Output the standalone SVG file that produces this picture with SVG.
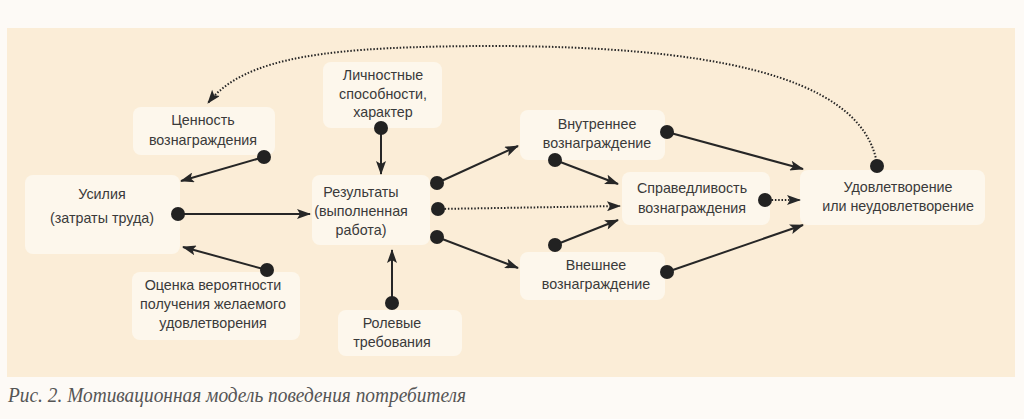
<svg xmlns="http://www.w3.org/2000/svg" width="1024" height="419" viewBox="0 0 1024 419">
<defs>
<style>
.box{fill:#fdf7ec;}
.t{font-family:"Liberation Sans",Arial,sans-serif;font-size:14.3px;fill:#3a3a3a;text-anchor:middle;}
.ln{stroke:#262626;stroke-width:2;fill:none;}
.dt{stroke:#262626;stroke-width:2;fill:none;stroke-dasharray:1.5 1.8;}
.dot{fill:#222;}
.cap{font-family:"Liberation Serif","Times New Roman",serif;font-style:italic;font-size:21px;fill:#555;}
</style>
<marker id="ah" viewBox="0 0 14 10" refX="13" refY="5" markerWidth="7.5" markerHeight="5" orient="auto" markerUnits="strokeWidth">
<path d="M0,0 L14,5 L0,10 L3,5 Z" fill="#262626"/>
</marker>
</defs>
<rect x="0" y="0" width="1024" height="419" fill="#fdfaf6"/>
<rect x="7" y="28" width="1008" height="349" fill="#fbedd7"/>

<g id="n-usilia"><rect class="box" x="25" y="175" width="155" height="79" rx="8"/><text class="t" x="102" y="199">Усилия</text><text class="t" x="102" y="223">(затраты труда)</text></g>
<g id="n-cennost"><rect class="box" x="133" y="107" width="142" height="48" rx="8"/><text class="t" x="203" y="125">Ценность</text><text class="t" x="203" y="145">вознаграждения</text></g>
<g id="n-lichn"><rect class="box" x="323" y="62" width="119" height="66" rx="8"/><text class="t" x="383" y="80">Личностные</text><text class="t" x="383" y="99">способности,</text><text class="t" x="383" y="117">характер</text></g>
<g id="n-rez"><rect class="box" x="312" y="175" width="118" height="70" rx="8"/><text class="t" x="361" y="197">Результаты</text><text class="t" x="361" y="216">(выполненная</text><text class="t" x="361" y="235">работа)</text></g>
<g id="n-ocenka"><rect class="box" x="132" y="272" width="168" height="68" rx="8"/><text class="t" x="213" y="290">Оценка вероятности</text><text class="t" x="213" y="309">получения желаемого</text><text class="t" x="213" y="328">удовлетворения</text></g>
<g id="n-rol"><rect class="box" x="338" y="310" width="124" height="46" rx="8"/><text class="t" x="392" y="328">Ролевые</text><text class="t" x="392" y="347">требования</text></g>
<g id="n-vnutr"><rect class="box" x="520" y="110" width="145" height="50" rx="8"/><text class="t" x="597" y="129">Внутреннее</text><text class="t" x="597" y="148">вознаграждение</text></g>
<g id="n-sprav"><rect class="box" x="622" y="172" width="148" height="53" rx="8"/><text class="t" x="692" y="193">Справедливость</text><text class="t" x="692" y="213">вознаграждения</text></g>
<g id="n-vnesh"><rect class="box" x="520" y="252" width="145" height="48" rx="8"/><text class="t" x="596" y="270">Внешнее</text><text class="t" x="596" y="289">вознаграждение</text></g>
<g id="n-udovl"><rect class="box" x="800" y="170" width="185" height="55" rx="8"/><text class="t" x="898" y="192">Удовлетворение</text><text class="t" x="898" y="211">или неудовлетворение</text></g>

<g id="connectors">
<path class="ln" d="M264,157 L181,181" marker-end="url(#ah)"/>
<path class="ln" d="M267,270 L183,247" marker-end="url(#ah)"/>
<path class="ln" d="M178,214 L310,214" marker-end="url(#ah)"/>
<path class="ln" d="M381,128 L381,174" marker-end="url(#ah)"/>
<path class="ln" d="M392,303 L392,250" marker-end="url(#ah)"/>
<path class="ln" d="M437,183 L518,146" marker-end="url(#ah)"/>
<path class="dt" d="M438,209 L620,206" marker-end="url(#ah)"/>
<path class="ln" d="M437,237 L518,268" marker-end="url(#ah)"/>
<path class="ln" d="M555,160 L618,184" marker-end="url(#ah)"/>
<path class="ln" d="M555,245 L618,220" marker-end="url(#ah)"/>
<path class="ln" d="M667,132 L803,169" marker-end="url(#ah)"/>
<path class="ln" d="M667,272 L803,225" marker-end="url(#ah)"/>
<path class="dt" d="M765,200 L800,200" marker-end="url(#ah)"/>
<path class="dt" d="M877,164 C862,70 690,47 500,46 C330,46 245,56 208,103" marker-end="url(#ah)"/>
<circle class="dot" cx="264" cy="157" r="7"/>
<circle class="dot" cx="267" cy="270" r="7"/>
<circle class="dot" cx="178" cy="214" r="7"/>
<circle class="dot" cx="381" cy="128" r="7"/>
<circle class="dot" cx="392" cy="303" r="7"/>
<circle class="dot" cx="437" cy="183" r="7"/>
<circle class="dot" cx="438" cy="209" r="7"/>
<circle class="dot" cx="437" cy="237" r="7"/>
<circle class="dot" cx="555" cy="160" r="7"/>
<circle class="dot" cx="555" cy="245" r="7"/>
<circle class="dot" cx="667" cy="132" r="7"/>
<circle class="dot" cx="667" cy="272" r="7"/>
<circle class="dot" cx="765" cy="200" r="7"/>
<circle class="dot" cx="877" cy="166" r="7"/>
</g>

<text class="cap" x="8" y="402" textLength="458" lengthAdjust="spacingAndGlyphs">Рис. 2. Мотивационная модель поведения потребителя</text>
</svg>
